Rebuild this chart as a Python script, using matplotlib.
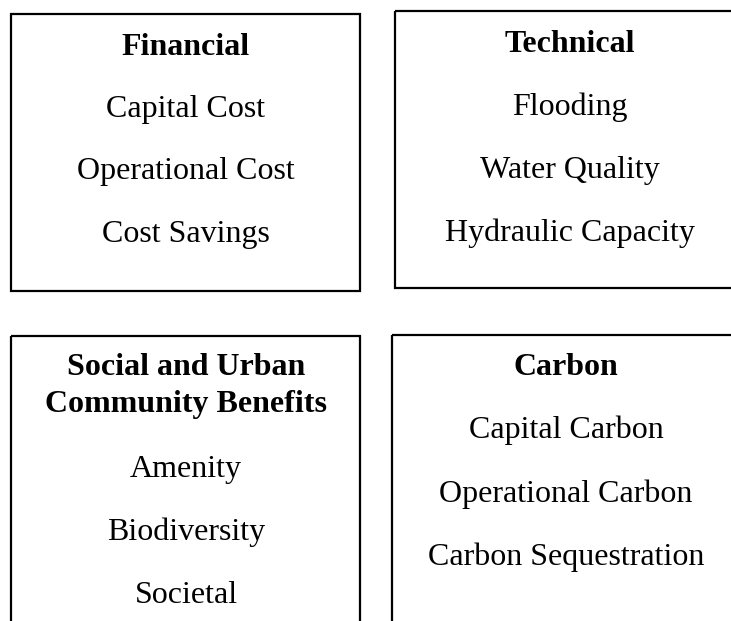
import matplotlib
matplotlib.use("Agg")
import matplotlib.pyplot as plt
from matplotlib.patches import Rectangle

# box contents
titles = ["Financial", "Technical", "Social and Urban\nCommunity Benefits", "Carbon"]
items = [
    ["Capital Cost", "Operational Cost", "Cost Savings"],
    ["Flooding", "Water Quality", "Hydraulic Capacity"],
    ["Amenity", "Biodiversity", "Societal"],
    ["Capital Carbon", "Operational Carbon", "Carbon Sequestration"],
]

# layout in pixels (x0, y0, x1, y1), right/bottom boxes run off the page
boxes = [
    (11, 14, 360, 291),
    (395, 11, 760, 288),
    (11, 336, 360, 660),
    (392, 335, 760, 660),
]
centers_x = [186, 570, 186, 566]
title_y = [55, 52, 375, 375]
item_y = [
    [117, 179, 242],
    [115, 178, 241],
    [477, 540, 603],
    [438, 502, 565],
]

fs = 23
font = "Liberation Serif"

fig = plt.figure(figsize=(7.31, 6.21), dpi=100)
ax = fig.add_axes([0, 0, 1, 1])
ax.set_xlim(0, 731)
ax.set_ylim(621, 0)
ax.set_axis_off()

for i in range(4):
    x0, y0, x1, y1 = boxes[i]
    ax.add_patch(Rectangle((x0, y0), x1 - x0, y1 - y0, fill=False,
                           edgecolor="black", linewidth=1.6))
    if "\n" in titles[i]:
        lines = titles[i].split("\n")
        for k, ln in enumerate(lines):
            ax.text(centers_x[i], title_y[i] + 37 * k, ln, ha="center",
                    va="baseline", fontsize=fs, fontweight="bold",
                    family=font)
    else:
        ax.text(centers_x[i], title_y[i], titles[i], ha="center",
                va="baseline", fontsize=fs, fontweight="bold", family=font)
    for txt, y in zip(items[i], item_y[i]):
        ax.text(centers_x[i], y, txt, ha="center", va="baseline",
                fontsize=fs, family=font)

fig.savefig("out.png", dpi=100)
